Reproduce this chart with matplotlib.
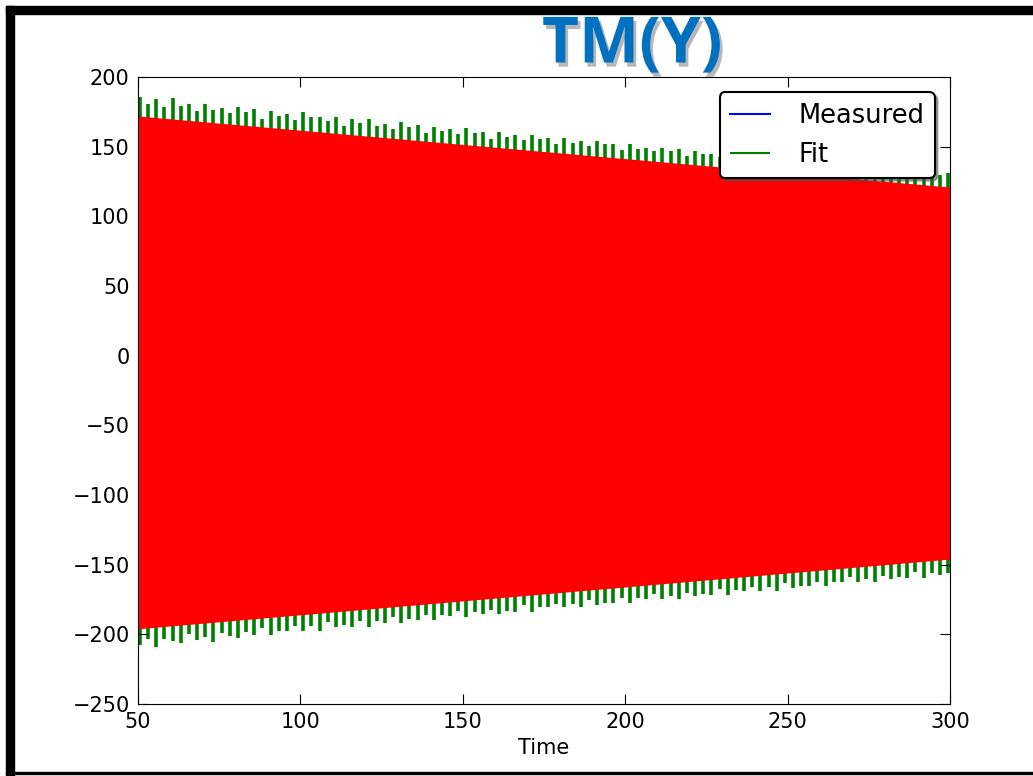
import numpy as np
import matplotlib
matplotlib.use('Agg')
import matplotlib.pyplot as plt
import matplotlib.patheffects as pe
from matplotlib.patches import Rectangle

# envelope of the red (dense) signal, read at the ends of the time range
env_t = [50, 300]
red_top = [172, 121]
red_bot = [-196, -146]

# green "Fit" spikes: how far each one pokes out past the red envelope
spike_up = [14, 9, 13, 8, 15, 10, 12, 7, 13, 9, 11, 8, 13, 10, 12, 6, 12, 9, 11, 7,
            13, 10, 11, 8, 12, 6, 11, 9, 12, 8, 10, 7, 12, 9, 11, 6, 11, 8, 10, 7,
            12, 9, 10, 6, 11, 8, 10, 7, 11, 9, 10, 6, 11, 8, 10, 7, 11, 9, 10, 6,
            11, 8, 9, 7, 10, 8, 10, 6, 10, 8, 9, 7, 10, 8, 9, 6, 10, 7, 9, 6,
            10, 8, 9, 6, 9, 7, 9, 6, 9, 7, 9, 6, 9, 7, 8, 6, 9, 7, 8, 10]
spike_dn = [12, 8, 14, 9, 11, 13, 7, 12, 10, 14, 8, 11, 13, 9, 12, 7, 13, 10, 11, 8,
            12, 9, 13, 7, 11, 10, 12, 8, 13, 9, 11, 7, 12, 10, 11, 8, 12, 9, 10, 7,
            12, 9, 11, 8, 12, 10, 11, 7, 12, 9, 10, 8, 11, 9, 12, 7, 11, 10, 11, 8,
            12, 9, 10, 7, 11, 9, 12, 8, 11, 10, 11, 7, 12, 9, 10, 8, 11, 9, 12, 7,
            11, 10, 11, 8, 12, 9, 10, 7, 11, 9, 12, 8, 11, 10, 11, 7, 12, 9, 11, 10]

title = 'TM(Y)'
x_label = 'Time'


def draw():
    fig = plt.figure(figsize=(10.33, 7.76), dpi=100)
    ax = fig.add_axes([0.1336, 0.0928, 0.7861, 0.8080])

    t = np.linspace(50.6, 299.4, len(spike_up))
    top = np.interp(t, env_t, red_top)
    bot = np.interp(t, env_t, red_bot)

    # green spikes sit under the red band
    ax.vlines(t, top - 20, top + np.array(spike_up), color='g', lw=2.6, label='Fit', zorder=1)
    ax.vlines(t, bot - np.array(spike_dn), bot + 20, color='g', lw=2.6, zorder=1)
    ax.plot([], [], color='b', label='Measured')
    ax.fill_between(env_t, red_bot, red_top, color='r', lw=0, zorder=2)

    ax.set_xlim(50, 300)
    ax.set_ylim(-250, 200)
    ax.set_xticks(range(50, 301, 50))
    ax.set_yticks(range(-250, 201, 50))
    ax.tick_params(direction='in', top=True, right=True, length=7, labelsize=15, pad=6)
    ax.set_xlabel(x_label, fontsize=15, labelpad=4)

    h, l = ax.get_legend_handles_labels()
    leg = ax.legend(h[::-1], l[::-1], loc='upper right', fontsize=18.5, shadow=True,
                    fancybox=True, framealpha=1, edgecolor='black',
                    borderaxespad=0.6, handlelength=1.55, handletextpad=1.1)
    leg.get_frame().set_linewidth(1.5)
    for ln in leg.get_lines():
        ln.set_linewidth(1.5)

    fig.text(632 / 1033, 1 - 46 / 776, title, ha='center', va='center',
             fontsize=46, fontweight='bold', family=['Open Sans', 'DejaVu Sans'],
             color='#0070C0',
             path_effects=[pe.withSimplePatchShadow(offset=(2, -3), shadow_rgbFace='#888888', alpha=0.6)])

    # slide frame
    W, H = 1033, 776
    fig.add_artist(Rectangle((6 / W, 1 - 14 / H), 1, 8 / H, transform=fig.transFigure, color='black'))
    fig.add_artist(Rectangle((6 / W, 0), 8 / W, 1 - 6 / H, transform=fig.transFigure, color='black'))
    fig.add_artist(Rectangle((6 / W, 2 / H), 1, 2 / H, transform=fig.transFigure, color='black'))

    fig.savefig('out.png', dpi=100)


if __name__ == '__main__':
    draw()
